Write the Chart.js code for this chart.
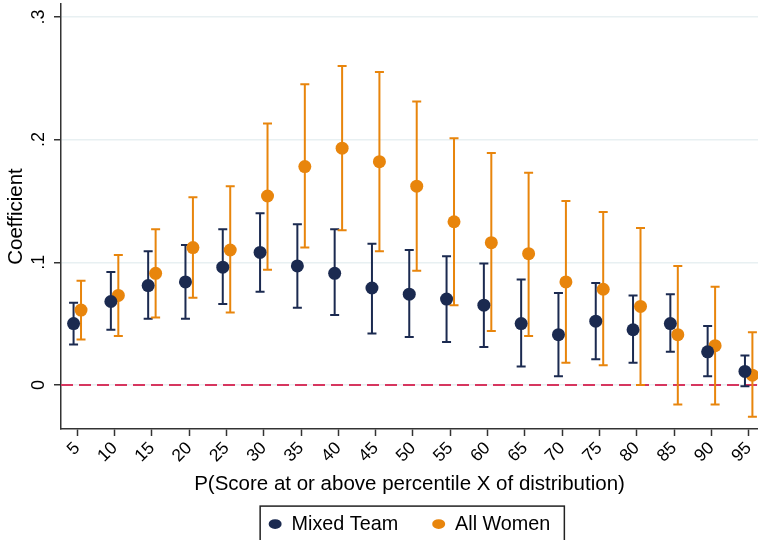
<!DOCTYPE html>
<html>
<head>
<meta charset="utf-8">
<script src="https://cdn.jsdelivr.net/npm/chart.js@4/dist/chart.umd.min.js"></script>
<style>
  html, body { margin: 0; padding: 0; background: #fff; }
  #wrap { width: 758px; height: 540px; }
</style>
</head>
<body>
<div id="wrap"><canvas id="myChart"></canvas></div>
<script>
const categories = [5, 10, 15, 20, 25, 30, 35, 40, 45, 50, 55, 60, 65, 70, 75, 80, 85, 90, 95];
const yTicks = [0, 0.1, 0.2, 0.3];

const mixedCoef = [0.050, 0.068, 0.081, 0.084, 0.096, 0.108, 0.097, 0.091, 0.079, 0.074, 0.070, 0.065, 0.050, 0.041, 0.052, 0.045, 0.050, 0.027, 0.011];
const mixedLo   = [0.033, 0.045, 0.054, 0.054, 0.066, 0.076, 0.063, 0.057, 0.042, 0.039, 0.035, 0.031, 0.015, 0.007, 0.021, 0.018, 0.027, 0.007, -0.001];
const mixedHi   = [0.067, 0.092, 0.109, 0.114, 0.127, 0.140, 0.131, 0.127, 0.115, 0.110, 0.105, 0.099, 0.086, 0.075, 0.083, 0.073, 0.074, 0.048, 0.024];

const womenCoef = [0.061, 0.073, 0.091, 0.112, 0.110, 0.154, 0.178, 0.193, 0.182, 0.162, 0.133, 0.116, 0.107, 0.084, 0.078, 0.064, 0.041, 0.032, 0.008];
const womenLo   = [0.037, 0.040, 0.055, 0.071, 0.059, 0.094, 0.112, 0.126, 0.109, 0.093, 0.065, 0.044, 0.040, 0.018, 0.016, 0.000, -0.016, -0.016, -0.026];
const womenHi   = [0.085, 0.106, 0.127, 0.153, 0.162, 0.213, 0.245, 0.260, 0.255, 0.231, 0.201, 0.189, 0.173, 0.150, 0.141, 0.128, 0.097, 0.080, 0.043];

const zeroLine = 0;

const NAVY = '#1b2a50';
const ORANGE = '#e8850c';
const FONT = '"Liberation Sans", Arial, Helvetica, sans-serif';
const shift = [-0.5, 0.5];   // side-by-side offset of the two series

const series = [
  {label: 'Mixed Team', color: NAVY, coef: mixedCoef, lo: mixedLo, hi: mixedHi},
  {label: 'All Women', color: ORANGE, coef: womenCoef, lo: womenLo, hi: womenHi}
];

// error bars + dashed zero line, drawn under the points
const errorBars = {
  id: 'errorBars',
  beforeDatasetsDraw(chart) {
    const {ctx, chartArea, scales: {x, y}} = chart;
    ctx.save();
    const y0 = y.getPixelForValue(zeroLine);
    ctx.strokeStyle = '#d6365f';
    ctx.lineWidth = 2;
    ctx.setLineDash([12, 6]);
    ctx.beginPath();
    ctx.moveTo(chartArea.left, y0);
    ctx.lineTo(chartArea.right, y0);
    ctx.stroke();
    ctx.setLineDash([]);
    series.forEach((s, i) => {
      ctx.strokeStyle = s.color;
      ctx.lineWidth = 2;
      categories.forEach((c, j) => {
        const px = x.getPixelForValue(c + shift[i]);
        const top = y.getPixelForValue(s.hi[j]);
        const bot = y.getPixelForValue(s.lo[j]);
        ctx.beginPath();
        ctx.moveTo(px, top); ctx.lineTo(px, bot);
        ctx.moveTo(px - 4.5, top); ctx.lineTo(px + 4.5, top);
        ctx.moveTo(px - 4.5, bot); ctx.lineTo(px + 4.5, bot);
        ctx.stroke();
      });
    });
    ctx.restore();
  }
};

// Stata centres the legend under the plot region and draws a box round it
const legendBox = {
  id: 'legendBox',
  afterLayout(chart) {
    const ca = chart.chartArea, lg = chart.legend;
    const d = (ca.left + ca.right) / 2 - (lg.left + lg.right) / 2;
    lg.left += d; lg.right += d;
    lg.top += 4; lg.bottom += 4;
  },
  afterDraw(chart) {
    const hb = chart.legend.legendHitBoxes;
    if (!hb || !hb.length) return;
    const left = Math.min(...hb.map(b => b.left)) - 8.5;
    const right = Math.max(...hb.map(b => b.left + b.width)) + 14;
    const mid = hb[0].top + hb[0].height / 2;
    const top = mid - 18;
    const ctx = chart.ctx;
    ctx.save();
    ctx.strokeStyle = '#222';
    ctx.lineWidth = 1.5;
    ctx.strokeRect(left, top, right - left, 60);
    ctx.restore();
  }
};

new Chart(document.getElementById('myChart'), {
  type: 'scatter',
  data: {
    datasets: series.map((s, i) => ({
      label: s.label,
      data: categories.map((c, j) => ({x: c + shift[i], y: s.coef[j]})),
      backgroundColor: s.color,
      borderColor: s.color,
      borderWidth: 0,
      pointRadius: 6.5,
      pointStyle: 'circle'
    }))
  },
  plugins: [errorBars, legendBox],
  options: {
    responsive: true,
    maintainAspectRatio: false,
    animation: false,
    layout: {autoPadding: false, padding: {top: 4, left: 0, right: 0, bottom: 0}},
    plugins: {
      tooltip: {enabled: false},
      legend: {
        position: 'bottom',
        labels: {
          usePointStyle: true,
          pointStyle: 'circle',
          pointStyleWidth: 13,
          boxHeight: 7,
          padding: 34,
          color: '#000',
          font: {family: FONT, size: 19.8}
        }
      }
    },
    scales: {
      x: {
        type: 'linear',
        min: 2.815,
        max: 96.25,
        afterBuildTicks: s => { s.ticks = categories.map(v => ({value: v})); },
        afterFit: s => {
          s.paddingLeft = 0; s.paddingRight = 0;
          s.height = s.chart.height - 429 - s.chart.legend.height;
        },
        border: {display: true, color: '#333', width: 1.5},
        grid: {drawOnChartArea: false, drawTicks: true, tickLength: 7, tickColor: '#333', tickWidth: 1.5},
        ticks: {
          minRotation: 45, maxRotation: 45, padding: 2,
          color: '#000', font: {family: FONT, size: 17.5},
          callback: v => String(v)
        },
        title: {
          display: true,
          text: 'P(Score at or above percentile X of distribution)',
          color: '#000',
          font: {family: FONT, size: 20.5},
          padding: {top: 4, bottom: -20}
        }
      },
      y: {
        min: -0.0359,
        max: 0.3105,
        afterBuildTicks: s => { s.ticks = yTicks.map(v => ({value: v})); },
        afterFit: s => { s.paddingTop = 0; s.paddingBottom = 0; s.width = 61; },
        border: {display: true, color: '#333', width: 1.5},
        grid: {color: '#e8f0f2', lineWidth: 1.5, drawTicks: true, tickLength: 7, tickColor: '#333', tickWidth: 1.5},
        ticks: {
          minRotation: 90, maxRotation: 90, crossAlign: 'center', padding: 7,
          color: '#000', font: {family: FONT, size: 18},
          callback: v => v === 0 ? '0' : String(Math.round(v * 10) / 10).replace(/^0/, '')
        },
        title: {
          display: true,
          text: 'Coefficient',
          color: '#000',
          font: {family: FONT, size: 20.5},
          padding: {top: 4, bottom: 0}
        }
      }
    }
  }
});
</script>
</body>
</html>
